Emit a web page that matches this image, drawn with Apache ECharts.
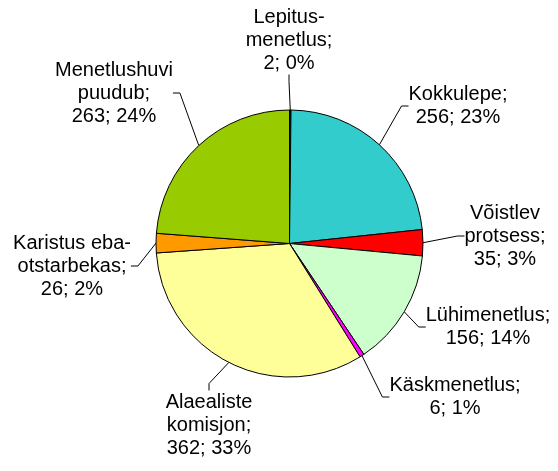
<!DOCTYPE html>
<html>
<head>
<meta charset="utf-8">
<script src="https://cdn.jsdelivr.net/npm/echarts@6/dist/echarts.min.js"></script>
<style>
html,body{margin:0;padding:0;background:#fff;}
#chart{width:558px;height:471px;}
</style>
</head>
<body>
<div id="chart"></div>
<script>
// Data
var categories = ['Lepitus-\nmenetlus', 'Kokkulepe', 'Võistlev\nprotsess', 'Lühimenetlus', 'Käskmenetlus', 'Alaealiste\nkomisjon', 'Karistus eba-\notstarbekas', 'Menetlushuvi\npuudub'];
var values = [2, 256, 35, 156, 6, 362, 26, 263];
var percentLabels = ['0%', '23%', '3%', '14%', '1%', '33%', '2%', '24%'];
var colors = ['#000080', '#33CCCC', '#FF0000', '#CCFFCC', '#FF00FF', '#FFFF99', '#FF9900', '#99CC00'];

// Label placement (layout, not data)
var labelPos = [
  [289, 40], [458, 106], [505, 236], [488, 327],
  [455, 397], [209, 425], [72, 266], [114, 93]
];

var chart = echarts.init(document.getElementById('chart'), null, {renderer: 'canvas'});
var seriesData = categories.map(function (c, i) {
  return {name: c, value: values[i], itemStyle: {color: colors[i]}};
});
chart.setOption({
  animation: false,
  backgroundColor: '#ffffff',
  series: [{
    type: 'pie',
    center: [289.5, 243.5],
    radius: 133.5,
    startAngle: 90,
    clockwise: true,
    avoidLabelOverlap: false,
    data: seriesData,
    itemStyle: {borderColor: '#000000', borderWidth: 1},
    emphasis: {disabled: true},
    label: {
      show: true,
      position: 'outside',
      fontFamily: 'Liberation Sans, Arial, sans-serif',
      fontSize: 20,
      lineHeight: 23,
      color: '#000000',
      align: 'center',
      formatter: function (p) {
        return p.name + ';\n' + p.value + '; ' + percentLabels[p.dataIndex];
      }
    },
    labelLine: {
      show: true,
      length: 10,
      length2: 7,
      lineStyle: {color: '#000000', width: 1}
    },
    labelLayout: function (p) {
      var pos = labelPos[p.dataIndex];
      return {x: pos[0], y: pos[1], align: 'center', verticalAlign: 'middle'};
    }
  }]
});
</script>
</body>
</html>
